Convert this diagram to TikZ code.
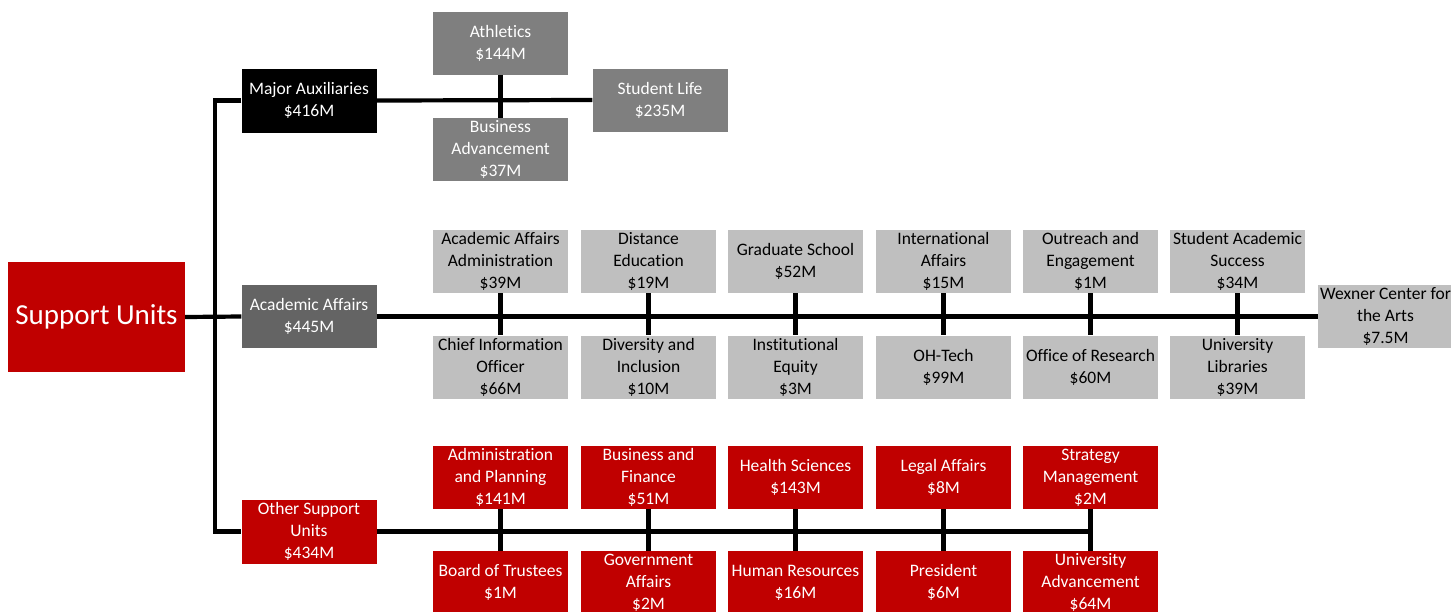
\documentclass[tikz,border=0pt]{standalone}
\usepackage{fontspec}
\setmainfont[Ligatures=NoCommon]{Carlito}
\definecolor{unitred}{HTML}{C00000}
\definecolor{darkunit}{HTML}{646464}
\definecolor{midunit}{HTML}{7F7F7F}
\definecolor{lightunit}{HTML}{BFBFBF}
\begin{document}
\begin{tikzpicture}[x=1pt,y=-1pt,
  unit/.style={minimum width=135pt, minimum height=63pt, inner sep=0pt,
    align=center, font=\fontsize{17.5}{22}\selectfont},
  redunit/.style={unit, fill=unitred, text=white},
  blackunit/.style={unit, fill=black, text=white},
  darkgray/.style={unit, fill=darkunit, text=white},
  midgray/.style={unit, fill=midunit, text=white},
  lightgray/.style={unit, fill=lightunit, text=black},
  link/.style={line width=4.2pt, draw=black}]
\useasboundingbox (0,0) rectangle (1451,611);
\clip (0,0) rectangle (1451,611);

% root
\node[redunit, minimum width=177pt, minimum height=110pt,
  font=\fontsize{29}{34}\selectfont] (su) at (96.5,317) {Support Units};

% second level
\node[blackunit, minimum height=64pt] (ma) at (309,100.5) {Major Auxiliaries\\\$416M};
\node[darkgray] (aa) at (309,316.5) {Academic Affairs\\\$445M};
\node[redunit, minimum height=64pt] (os) at (309,531.5) {Other Support\\Units\\\$434M};
\coordinate (trunk) at (215,316.5);

% major auxiliaries
\node[midgray] (ath) at (500.5,43) {Athletics\\\$144M};
\node[midgray] (ba) at (500.5,149.5) {Business\\Advancement\\\$37M};
\node[midgray] (sl) at (660,100) {Student Life\\\$235M};

% academic affairs, upper row
\node[lightgray] (a1) at (500.5,261.5) {Academic Affairs\\Administration\\\$39M};
\node[lightgray] (a2) at (648.5,261.5) {Distance\\Education\\\$19M};
\node[lightgray] (a3) at (795.5,261.5) {Graduate School\\\$52M};
\node[lightgray] (a4) at (943.5,261.5) {International\\Affairs\\\$15M};
\node[lightgray] (a5) at (1090.5,261.5) {Outreach and\\Engagement\\\$1M};
\node[lightgray] (a6) at (1237.5,261.5) {Student Academic\\Success\\\$34M};
% academic affairs, lower row
\node[lightgray] (b1) at (500.5,367) {Chief Information\\Officer\\\$66M};
\node[lightgray] (b2) at (648.5,367) {Diversity and\\Inclusion\\\$10M};
\node[lightgray] (b3) at (795.5,367) {Institutional\\Equity\\\$3M};
\node[lightgray] (b4) at (943.5,367) {OH-Tech\\\$99M};
\node[lightgray] (b5) at (1090.5,367) {Office of Research\\\$60M};
\node[lightgray] (b6) at (1237.5,367) {University\\Libraries\\\$39M};
\node[lightgray] (wx) at (1385.5,316.5) {Wexner Center for\\the Arts\\\$7.5M};

% other support units, upper row
\node[redunit] (c1) at (500.5,477.5) {Administration\\and Planning\\\$141M};
\node[redunit] (c2) at (648.5,477.5) {Business and\\Finance\\\$51M};
\node[redunit] (c3) at (795.5,477.5) {Health Sciences\\\$143M};
\node[redunit] (c4) at (943.5,477.5) {Legal Affairs\\\$8M};
\node[redunit] (c5) at (1090.5,477.5) {Strategy\\Management\\\$2M};
% other support units, lower row
\node[redunit] (d1) at (500.5,582.5) {Board of Trustees\\\$1M};
\node[redunit] (d2) at (648.5,582.5) {Government\\Affairs\\\$2M};
\node[redunit] (d3) at (795.5,582.5) {Human Resources\\\$16M};
\node[redunit] (d4) at (943.5,582.5) {President\\\$6M};
\node[redunit] (d5) at (1090.5,582.5) {University\\Advancement\\\$64M};

% connectors
\draw[link] (su.east) -- (aa.west);
\draw[link] (ma.west) -| (trunk) |- (os.west);

\draw[link] (ma.east) -- (sl.west);
\draw[link] (ath.south) -- (ba.north);

\draw[link] (aa.east) -- (wx.west);
\foreach \i in {1,...,6} \draw[link] (a\i.south) -- (b\i.north);

\draw[link] (os.east) -- (os.east -| c5.south);
\foreach \i in {1,...,5} \draw[link] (c\i.south) -- (d\i.north);
\end{tikzpicture}
\end{document}
